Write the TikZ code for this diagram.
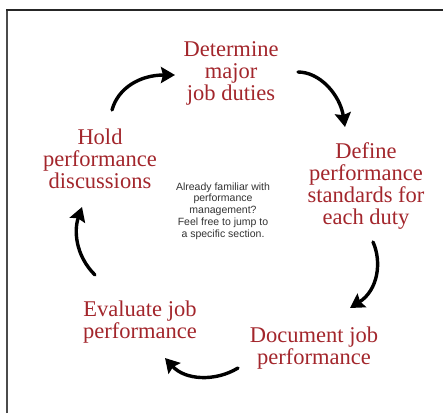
\documentclass[tikz,border=0pt]{standalone}
\usepackage{fontspec}
\setmainfont{Liberation Serif}
\setsansfont{Liberation Sans}
\usepackage{xcolor}
\usetikzlibrary{arrows.meta}
\definecolor{steptext}{RGB}{163,38,44}
\definecolor{frameline}{RGB}{75,75,75}

\begin{document}
\begin{tikzpicture}[x=1pt,y=-1pt,
  stage/.style={align=center,text=steptext,inner sep=0pt,
    font=\fontsize{22.5}{22}\selectfont},
  cycle/.style={line width=3.4pt,line cap=round,
    -{Stealth[length=14pt,width=16pt,inset=2pt]}}]
  \useasboundingbox (0,0) rectangle (443,413);
  \fill[white] (0,0) rectangle (443,413);
  \draw[line width=2pt,frameline] (7,413) -- (7,10);
  \draw[line width=1.6pt,black!85] (6,10) -- (443,10);
  % stages
  \node[stage] (determine) at (231,73) {Determine\\major\\job duties};
  \node[stage] (define) at (366,186) {Define\\performance\\standards for\\each duty};
  \node[stage] (document) at (314,348) {Document job\\performance};
  \node[stage] (evaluate) at (140,322) {Evaluate job\\performance};
  \node[stage] (hold) at (100,159) {Hold\\performance\\discussions};
  \node[align=center,inner sep=0pt,text=black!80,
    font=\sffamily\fontsize{10.5}{11.75}\selectfont] (intro) at (223,211)
    {Already familiar with\\performance\\management?\\Feel free to jump to\\a specific section.};
  % arrow ends
  \coordinate (hold-out) at (112,110);  \coordinate (determine-in) at (175,75);
  \coordinate (determine-out) at (298,72); \coordinate (define-in) at (345,127);
  \coordinate (define-out) at (373,242); \coordinate (document-in) at (350,308);
  \coordinate (document-out) at (238,368); \coordinate (evaluate-in) at (165,358);
  \coordinate (evaluate-out) at (95,275); \coordinate (hold-in) at (82,207);
  \draw[cycle] (hold-out) .. controls (118,88) and (140,75) .. (determine-in);
  \draw[cycle] (determine-out) .. controls (320,72) and (340,95) .. (define-in);
  \draw[cycle] (define-out) .. controls (382,262) and (378,290) .. (document-in);
  \draw[cycle] (document-out) .. controls (215,382) and (185,380) .. (evaluate-in);
  \draw[cycle] (evaluate-out) .. controls (75,255) and (74,230) .. (hold-in);
\end{tikzpicture}
\end{document}
